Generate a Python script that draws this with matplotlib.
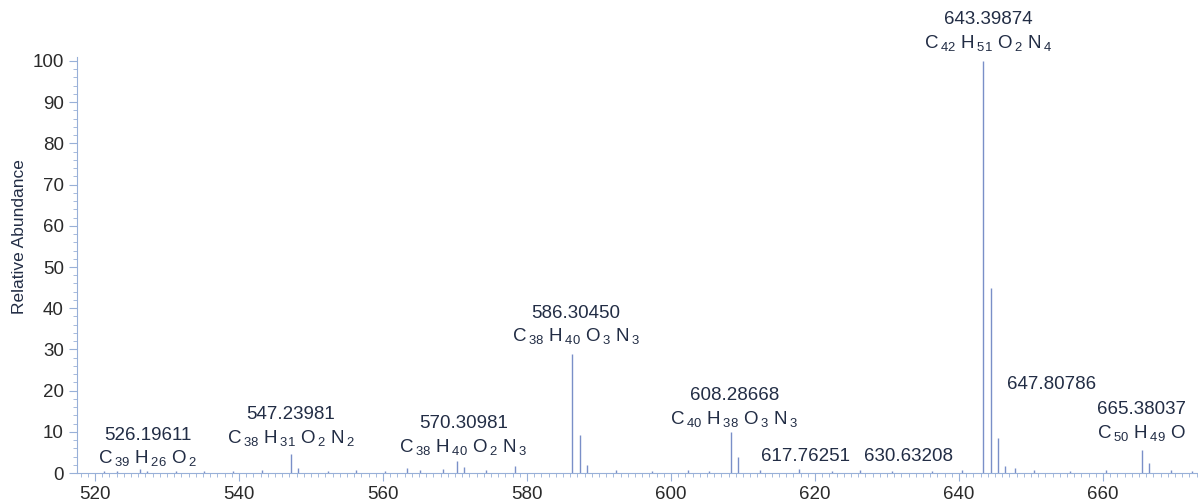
import re
import matplotlib
matplotlib.use("Agg")
import matplotlib.pyplot as plt
from matplotlib.ticker import MultipleLocator, FixedLocator

plt.rcParams["font.family"] = ["Liberation Sans", "DejaVu Sans"]
plt.rcParams["mathtext.fontset"] = "custom"
plt.rcParams["mathtext.rm"] = "Liberation Sans"
plt.rcParams["mathtext.it"] = "Liberation Sans"

# --- dane widma (m/z, wzgledna intensywnosc) ---
mz = [521.2, 523.1, 526.2, 527.2, 531.3, 535.2, 539.1, 543.2, 547.24, 548.2,
      552.3, 556.2, 560.3, 563.3, 565.2, 568.3, 570.31, 571.3, 574.3, 578.3,
      586.30, 587.31, 588.3, 592.3, 597.3, 602.3, 605.3, 608.29, 609.29, 612.3,
      617.76, 622.3, 626.3, 630.63, 636.3, 640.4, 643.40, 644.40, 645.40, 646.4,
      647.81, 650.4, 655.4, 660.4, 665.38, 666.38, 669.4, 672.4]
intensity = [0.6, 0.5, 1.0, 0.6, 0.5, 0.6, 0.5, 0.8, 4.5, 1.2,
             0.6, 0.7, 0.6, 1.2, 0.8, 0.9, 3.0, 1.5, 0.8, 1.6,
             29.0, 9.2, 2.0, 0.8, 0.6, 0.7, 0.6, 10.0, 4.0, 0.7,
             1.0, 0.6, 0.8, 0.6, 0.6, 0.7, 100.0, 45.0, 8.5, 1.8,
             1.2, 0.8, 0.6, 0.7, 5.5, 2.5, 0.8, 0.6]

# --- opisane piki ---
label_mz = ["526.19611", "547.23981", "570.30981", "586.30450", "608.28668",
            "617.76251", "630.63208", "643.39874", "647.80786", "665.38037"]
label_formula = ["C39H26O2", "C38H31O2N2", "C38H40O2N3", "C38H40O3N3", "C40H38O3N3",
                 "", "", "C42H51O2N4", "", "C50H49O"]

# polozenie opisow (srodek tekstu, w jednostkach osi)
label_x = [527.3, 547.2, 571.2, 586.8, 608.8, 618.7, 633.0, 644.1, 652.8, 665.3]
label_y = [9.2, 14.1, 11.9, 38.8, 18.7, 4.1, 3.9, 110.0, 21.4, 15.3]

TEXT_COLOR = "#222d45"
LINE_COLOR = "#7a8fc8"
AXIS_COLOR = "#98b0d8"


def to_mathtext(formula):
    parts = re.findall(r"([A-Z][a-z]?)(\d*)", formula)
    out = []
    for el, n in parts:
        if n:
            out.append(r"\mathrm{%s}\,_{\mathrm{%s}}" % (el, n))
        else:
            out.append(r"\mathrm{%s}" % el)
    return "$" + r"\ ".join(out) + "$"


fig = plt.figure(figsize=(11.98, 5.03), dpi=100)
ax = fig.add_axes([0.0643, 0.0596, 0.9357, 0.9404])

ax.vlines(mz, 0, intensity, color=LINE_COLOR, linewidth=1.0)

for name, formula, x, y in zip(label_mz, label_formula, label_x, label_y):
    ax.text(x, y, name, ha="center", va="center", fontsize=13.5, color=TEXT_COLOR)
    if formula:
        ax.text(x, y - 5.6, to_mathtext(formula), ha="center", va="center",
                fontsize=13.5, color=TEXT_COLOR)

ax.set_xlim(517.5, 673.2)
ax.set_ylim(0, 114.8)
ax.set_ylabel("Relative Abundance", fontsize=12.5, color=TEXT_COLOR, labelpad=4)

ax.xaxis.set_major_locator(MultipleLocator(20))
ax.xaxis.set_minor_locator(MultipleLocator(1))
ax.yaxis.set_major_locator(FixedLocator(range(0, 101, 10)))
ax.yaxis.set_minor_locator(FixedLocator(range(0, 101, 2)))
ax.tick_params(which="major", length=6, color=AXIS_COLOR, labelsize=13.5,
               labelcolor="#2a2a2a", direction="out")
ax.tick_params(which="minor", length=3, color=AXIS_COLOR, direction="out")

for side in ["top", "right"]:
    ax.spines[side].set_visible(False)
for side in ["left", "bottom"]:
    ax.spines[side].set_color(AXIS_COLOR)
ax.spines["left"].set_bounds(0, 101)

fig.savefig("out.png", dpi=100)
